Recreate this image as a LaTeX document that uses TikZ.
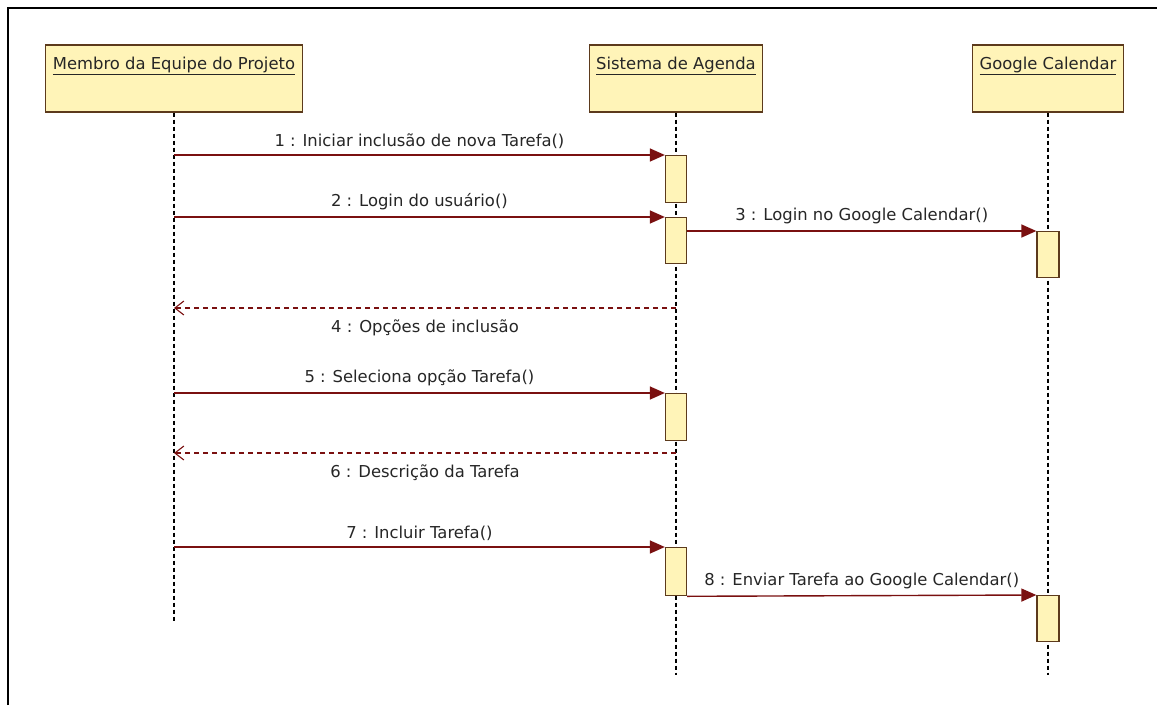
\documentclass[tikz,border=0pt]{standalone}
\usepackage{fontspec}
\setmainfont{DejaVu Sans}
\usetikzlibrary{arrows.meta,calc}
\definecolor{msgred}{RGB}{122,16,16}
\definecolor{boxline}{RGB}{92,58,28}
\definecolor{boxfill}{RGB}{255,244,184}
\begin{document}
\begin{tikzpicture}[x=1pt,y=-1pt,
  txt/.style={font=\fontsize{16.4}{19}\selectfont, inner sep=1pt, text=black!85},
  actor/.style={draw=boxline, fill=boxfill, line width=1.3pt, minimum height=67pt, inner sep=0pt},
  act/.style={draw=boxline, fill=boxfill, line width=1.3pt, minimum width=21pt, inner sep=0pt, anchor=north},
  life/.style={line width=1.2pt, dash pattern=on 4pt off 3pt},
  call/.style={draw=msgred, line width=1.4pt, -{Triangle[length=15pt,width=13pt,fill=msgred]}},
  reply/.style={draw=msgred, line width=1.1pt, dash pattern=on 5pt off 4pt, -{Straight Barb[length=9pt,width=14pt]}},
  frameline/.style={line width=2.5pt}]
\useasboundingbox (0,0) rectangle (1157,705);
% frame
\draw[frameline] (8,705) -- (8,8) -- (1157,8);
% participants
\node[actor, minimum width=257pt] (p1) at (174,78.5) {};
\node[actor, minimum width=173pt] (p2) at (676,78.5) {};
\node[actor, minimum width=151pt] (p3) at (1048,78.5) {};
\node[txt, anchor=base] (t1) at ([yshift=-25pt]p1.north) {\underline{Membro da Equipe do Projeto}};
\node[txt, anchor=base] (t2) at ([yshift=-25pt]p2.north) {\underline{Sistema de Agenda}};
\node[txt, anchor=base] (t3) at ([yshift=-25pt]p3.north) {\underline{Google Calendar}};
% lifelines
\coordinate (e1) at (174,623);
\coordinate (e2) at (676,675);
\coordinate (e3) at (1048,675);
\draw[life] (p1.south) -- (e1);
\draw[life] (p2.south) -- (e2);
\draw[life] (p3.south) -- (e3);
% activations
\node[act, minimum height=47pt] (a1) at (676,155) {};
\node[act, minimum height=46pt] (a2) at (676,217) {};
\node[act, minimum height=46pt, minimum width=22pt] (a3) at (1048,231) {};
\node[act, minimum height=47pt] (a4) at (676,393) {};
\node[act, minimum height=48pt] (a5) at (676,547) {};
\node[act, minimum height=46pt, minimum width=22pt] (a6) at (1048,595) {};
% messages
\coordinate (s1) at (174,155);
\coordinate (s2) at (174,217);
\coordinate (s5) at (174,393);
\coordinate (s7) at (174,547);
\coordinate (r4s) at (676,308);
\coordinate (r4e) at (174,308);
\coordinate (r6s) at (676,453);
\coordinate (r6e) at (174,453);
\draw[call] (s1) -- (a1.north west) node[txt, midway, above=5pt] {1 : Iniciar inclusão de nova Tarefa()};
\draw[call] (s2) -- (a2.north west) node[txt, midway, above=5pt] {2 : Login do usuário()};
\draw[call] (a2.east |- a3.north) -- (a3.north west) node[txt, midway, above=5pt] {3 : Login no Google Calendar()};
\draw[reply] (r4s) -- (r4e) node[txt, midway, below=10pt] {4 : Opções de inclusão};
\draw[call] (s5) -- (a4.north west) node[txt, midway, above=5pt] {5 : Seleciona opção Tarefa()};
\draw[reply] (r6s) -- (r6e) node[txt, midway, below=10pt] {6 : Descrição da Tarefa};
\draw[call] (s7) -- (a5.north west) node[txt, midway, above=5pt] {7 : Incluir Tarefa()};
\draw[call] (a5.south east) -- (a6.north west) node[txt, midway, above=5pt] {8 : Enviar Tarefa ao Google Calendar()};
\end{tikzpicture}
\end{document}
